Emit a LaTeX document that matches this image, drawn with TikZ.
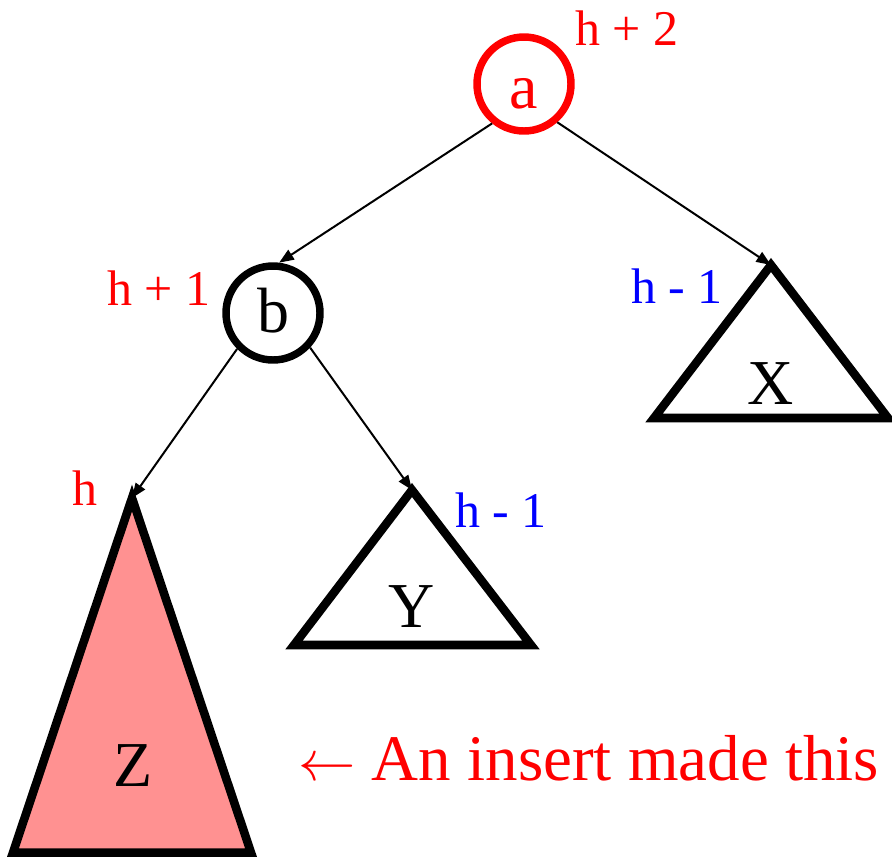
\documentclass[tikz,border=0pt]{standalone}
\usepackage{fontspec}
\setmainfont{Liberation Serif}
\usetikzlibrary{arrows.meta,positioning}
\definecolor{avlred}{HTML}{FF0000}
\definecolor{avlblue}{HTML}{0000FF}
\definecolor{avlpink}{HTML}{FF9191}

\begin{document}
\begin{tikzpicture}[
  x=0.75pt, y=-0.75pt,
  treenode/.style={circle, draw, line width=5.6pt, minimum size=70.5pt,
                   inner sep=0pt, text depth=0pt, font=\fontsize{48}{48}\selectfont},
  subtree/.style={draw, line width=6.4pt, line join=miter},
  letter/.style={font=\fontsize{48}{48}\selectfont},
  hlabel/.style={anchor=base west, inner sep=0pt, font=\fontsize{37.5}{37.5}\selectfont},
  ar/.style={-{Triangle[length=11pt,width=8.5pt]}, line width=1.5pt},
]
\useasboundingbox (0,0) rectangle (892,858);

% tree nodes
\node[treenode, avlred, text height=36pt] (a) at (524,84) {a};
\node[treenode, text height=28.5pt] (b) at (273,313) {b};

% subtrees
\coordinate (xtop) at (771,265);
\coordinate (ytop) at (412,490);
\coordinate (ztop) at (132,498);
\draw[subtree] (xtop) -- (654,418) -- (888,418) -- cycle;
\draw[subtree] (ytop) -- (294,645) -- (531,645) -- cycle;
\draw[subtree, fill=avlpink] (ztop) -- (13,852.5) -- (251,852.5) -- cycle;
\node[letter] (xname) at (771,384) {X};
\node[letter] (yname) at (412,607) {Y};
\node[letter] (zname) at (133,766) {Z};

% edges
\draw[ar] (a.231) -- (b.83);
\draw[ar] (a.311) -- (xtop);
\draw[ar] (b.225) -- (ztop);
\draw[ar] (b.317) -- (ytop);

% heights
\node[hlabel, avlred] (ha) at (575,45) {h + 2};
\node[hlabel, avlred] (hb) at (107,305) {h + 1};
\node[hlabel, avlblue] (hx) at (631,303) {h - 1};
\node[hlabel, avlblue] (hy) at (455,527) {h - 1};
\node[hlabel, avlred] (hz) at (72,505) {h};

\node[anchor=base west, inner sep=0pt, avlred, font=\fontsize{48.75}{48.75}\selectfont]
  (note) at (298,780) {\scalebox{4.3}{\normalsize$\leftarrow$} An insert made this};

\end{tikzpicture}
\end{document}
